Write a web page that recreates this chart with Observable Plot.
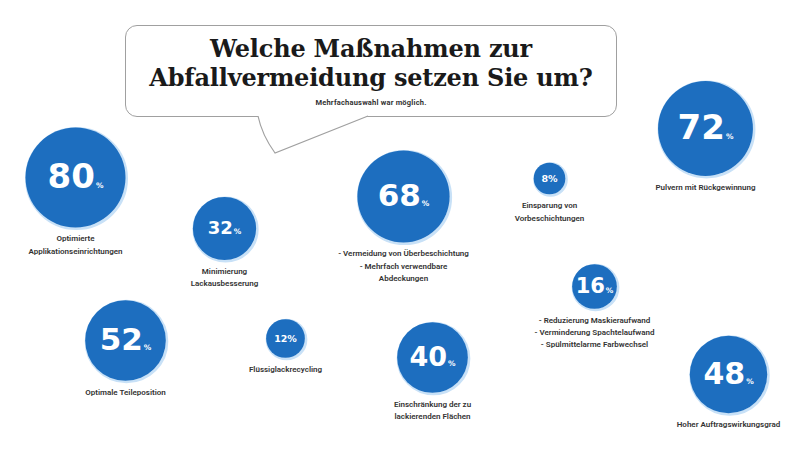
<!DOCTYPE html>
<html><head><meta charset="utf-8">
<script src="https://cdn.jsdelivr.net/npm/d3@7"></script>
<script src="https://cdn.jsdelivr.net/npm/@observablehq/plot@0.6"></script>
<style>
body{margin:0;background:#fff;}
#wrap{position:relative;width:805px;height:452px;overflow:hidden;}
#box{position:absolute;left:125px;top:25px;width:490px;height:90px;border:1.2px solid #a0a0a0;border-radius:12px;background:#fff;text-align:center;}
#title{margin-top:8px;font-family:"DejaVu Serif";font-weight:bold;font-size:24px;line-height:29px;color:#1a1a1a;letter-spacing:-0.2px;}
#sub{margin-top:6px;font-family:Roboto;font-weight:700;font-size:7.5px;color:#333;letter-spacing:0.2px;}
#tail{position:absolute;left:0;top:0;}
</style></head>
<body>
<div id="wrap">
  <div id="chart"></div>
  <div id="box"><div id="title">Welche Maßnahmen zur<br>Abfallvermeidung setzen Sie um?</div><div id="sub">Mehrfachauswahl war möglich.</div></div>
  <svg id="tail" width="805" height="200"><path d="M258,116 Q262,135 275,153 L368,116" fill="#fff" stroke="#a0a0a0" stroke-width="1.2"/></svg>
</div>
<script>
const labels = [
  "Optimierte\nApplikationseinrichtungen",
  "Minimierung\nLackausbesserung",
  "- Vermeidung von Überbeschichtung\n- Mehrfach verwendbare\nAbdeckungen",
  "Einsparung von\nVorbeschichtungen",
  "Pulvern mit Rückgewinnung",
  "Optimale Teileposition",
  "Flüssiglackrecycling",
  "Einschränkung der zu\nlackierenden Flächen",
  "- Reduzierung Maskieraufwand\n- Verminderung Spachtelaufwand\n- Spülmittelarme Farbwechsel",
  "Hoher Auftragswirkungsgrad"
];
const values = [80, 32, 68, 8, 72, 52, 12, 40, 16, 48];
// bubble layout (centre positions on the 805x452 canvas) and number font sizes
const layoutX = [75, 224, 403, 549, 705, 125, 285, 432, 594, 728];
const layoutY = [177, 228, 196, 178, 128, 340, 338, 357, 286, 374];
const numberSize = [34, 18, 31, 9.5, 34, 31, 9.5, 27, 21, 30];

const R = d3.scaleSqrt().domain([0, 80]).range([0, 50]);
const pfs = 7.5;
const rows = values.map((v, i) => {
  const fs = numberSize[i];
  const numW = String(v).length * 0.696 * fs, pctW = 1.0 * pfs + 1;
  return {label: labels[i], value: v, x: layoutX[i], y: layoutY[i], fs,
          numX: layoutX[i] - (numW + pctW) / 2 + numW};
});
const big = rows.filter(d => d.value >= 16);
const small = rows.filter(d => d.value < 16);
const numFont = "DejaVu Sans";

const chart = Plot.plot({
  width: 805, height: 452, margin: 0,
  x: {domain: [0, 805], range: [0, 805], axis: null},
  y: {domain: [0, 452], range: [0, 452], axis: null},
  r: {type: "sqrt", domain: [0, 80], range: [0, 50]},
  marks: [
    Plot.dot(rows, {x: "x", y: "y", r: "value", fill: "none", stroke: "#c8e1f7", strokeWidth: 3, dx: 1, dy: 1}),
    Plot.dot(rows, {x: "x", y: "y", r: "value", fill: "#1d6ebf"}),
    Plot.text(big, {x: "numX", y: "y", text: d => String(d.value), fontSize: d => d.fs, textAnchor: "end",
      fill: "white", fontWeight: "bold", fontFamily: numFont}),
    Plot.text(big, {x: d => d.numX + 1, y: d => d.y + 0.32 * d.fs - 0.32 * pfs, text: () => "%",
      fontSize: pfs, textAnchor: "start", fill: "white", fontWeight: "bold", fontFamily: numFont}),
    Plot.text(small, {x: "x", y: "y", text: d => d.value + "%", fontSize: d => d.fs,
      fill: "white", fontWeight: "bold", fontFamily: numFont}),
    Plot.text(rows, {x: "x", y: d => d.y + R(d.value) + 5, text: "label", lineAnchor: "top", lineHeight: 1.55,
      fontSize: 8, fontWeight: 600, fill: "#333", fontFamily: "Roboto"})
  ]
});
document.getElementById("chart").appendChild(chart);
</script>
</body></html>
